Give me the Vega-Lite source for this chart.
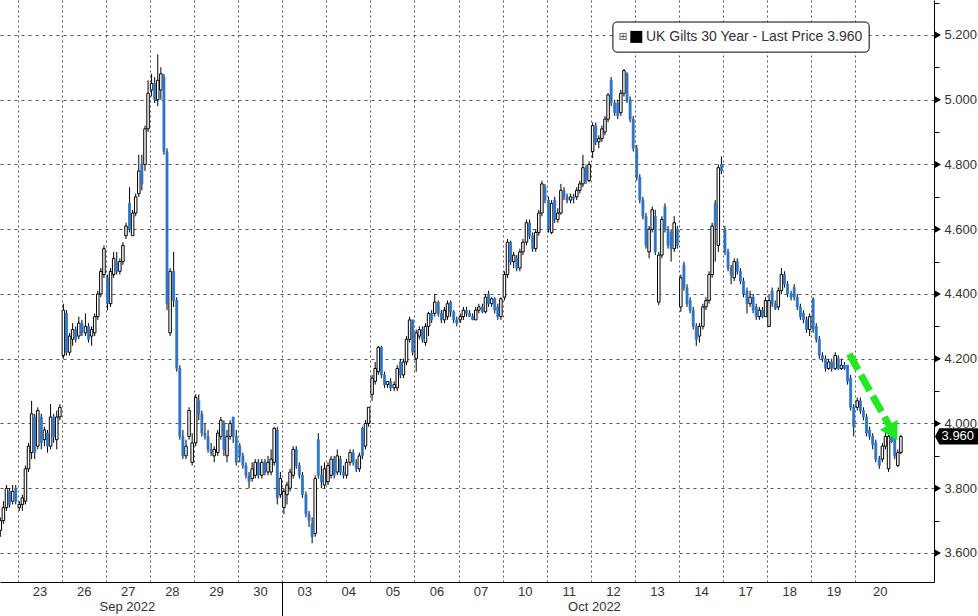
{
  "$schema": "https://vega.github.io/schema/vega-lite/v6.json",
  "description": "UK Gilts 30 Year intraday candles, Sep-Oct 2022",
  "width": 934,
  "height": 582,
  "autosize": {"type": "none"},
  "padding": {"left": 0, "top": 0, "right": 44, "bottom": 34},
  "background": "white",
  "view": {"stroke": null},
  "config": {"font": "Liberation Sans", "scale": {"continuousPadding": 0}},
  "resolve": {"axis": {"x": "independent", "y": "independent"}},
  "datasets": {
    "bars": [
      {"t":-0.39,"open":3.67,"high":3.71,"low":3.65,"close":3.70},
      {"t":-0.32,"open":3.70,"high":3.76,"low":3.69,"close":3.74},
      {"t":-0.25,"open":3.74,"high":3.81,"low":3.73,"close":3.80},
      {"t":-0.18,"open":3.79,"high":3.80,"low":3.74,"close":3.75},
      {"t":-0.11,"open":3.76,"high":3.81,"low":3.75,"close":3.79},
      {"t":-0.04,"open":3.80,"high":3.81,"low":3.75,"close":3.76},
      {"t":0.04,"open":3.74,"high":3.76,"low":3.73,"close":3.75},
      {"t":0.11,"open":3.75,"high":3.78,"low":3.73,"close":3.77},
      {"t":0.18,"open":3.76,"high":3.87,"low":3.75,"close":3.86},
      {"t":0.25,"open":3.86,"high":3.94,"low":3.85,"close":3.93},
      {"t":0.32,"open":3.91,"high":4.07,"low":3.89,"close":4.03},
      {"t":0.39,"open":4.02,"high":4.03,"low":3.89,"close":3.91},
      {"t":0.46,"open":3.93,"high":4.05,"low":3.92,"close":4.04},
      {"t":0.54,"open":4.02,"high":4.03,"low":3.92,"close":3.94},
      {"t":0.61,"open":3.95,"high":3.99,"low":3.93,"close":3.98},
      {"t":0.68,"open":3.97,"high":3.98,"low":3.91,"close":3.93},
      {"t":0.75,"open":3.93,"high":4.06,"low":3.92,"close":4.02},
      {"t":0.82,"open":4.02,"high":4.03,"low":3.94,"close":3.96},
      {"t":0.89,"open":3.95,"high":4.04,"low":3.92,"close":4.02},
      {"t":0.96,"open":4.02,"high":4.06,"low":4.01,"close":4.05},
      {"t":1.04,"open":4.21,"high":4.37,"low":4.20,"close":4.35},
      {"t":1.11,"open":4.34,"high":4.35,"low":4.21,"close":4.22},
      {"t":1.18,"open":4.22,"high":4.28,"low":4.21,"close":4.27},
      {"t":1.25,"open":4.26,"high":4.31,"low":4.24,"close":4.29},
      {"t":1.32,"open":4.29,"high":4.30,"low":4.25,"close":4.26},
      {"t":1.39,"open":4.27,"high":4.33,"low":4.26,"close":4.31},
      {"t":1.46,"open":4.31,"high":4.32,"low":4.27,"close":4.28},
      {"t":1.54,"open":4.28,"high":4.34,"low":4.27,"close":4.30},
      {"t":1.61,"open":4.30,"high":4.31,"low":4.25,"close":4.26},
      {"t":1.68,"open":4.27,"high":4.30,"low":4.24,"close":4.29},
      {"t":1.75,"open":4.28,"high":4.34,"low":4.27,"close":4.33},
      {"t":1.82,"open":4.33,"high":4.41,"low":4.32,"close":4.40},
      {"t":1.89,"open":4.40,"high":4.48,"low":4.39,"close":4.47},
      {"t":1.96,"open":4.46,"high":4.55,"low":4.45,"close":4.54},
      {"t":2.04,"open":4.45,"high":4.46,"low":4.35,"close":4.37},
      {"t":2.11,"open":4.37,"high":4.48,"low":4.36,"close":4.47},
      {"t":2.18,"open":4.46,"high":4.53,"low":4.45,"close":4.51},
      {"t":2.25,"open":4.50,"high":4.53,"low":4.46,"close":4.47},
      {"t":2.32,"open":4.47,"high":4.51,"low":4.46,"close":4.50},
      {"t":2.39,"open":4.50,"high":4.56,"low":4.49,"close":4.55},
      {"t":2.46,"open":4.58,"high":4.62,"low":4.57,"close":4.61},
      {"t":2.54,"open":4.68,"high":4.73,"low":4.59,"close":4.60},
      {"t":2.61,"open":4.58,"high":4.66,"low":4.58,"close":4.65},
      {"t":2.68,"open":4.65,"high":4.71,"low":4.64,"close":4.70},
      {"t":2.75,"open":4.71,"high":4.83,"low":4.70,"close":4.78},
      {"t":2.82,"open":4.80,"high":4.83,"low":4.72,"close":4.74},
      {"t":2.89,"open":4.80,"high":4.92,"low":4.78,"close":4.91},
      {"t":2.96,"open":4.91,"high":5.06,"low":4.90,"close":5.02},
      {"t":3.04,"open":5.03,"high":5.08,"low":5.01,"close":5.05},
      {"t":3.11,"open":5.05,"high":5.07,"low":4.99,"close":5.00},
      {"t":3.18,"open":5.00,"high":5.14,"low":4.98,"close":5.06},
      {"t":3.25,"open":5.03,"high":5.10,"low":5.00,"close":5.08},
      {"t":3.32,"open":5.07,"high":5.08,"low":4.83,"close":4.84},
      {"t":3.39,"open":4.84,"high":4.85,"low":4.35,"close":4.37},
      {"t":3.46,"open":4.28,"high":4.48,"low":4.27,"close":4.47},
      {"t":3.54,"open":4.47,"high":4.53,"low":4.36,"close":4.38},
      {"t":3.61,"open":4.38,"high":4.39,"low":4.16,"close":4.17},
      {"t":3.68,"open":4.17,"high":4.18,"low":3.95,"close":3.96},
      {"t":3.75,"open":3.96,"high":3.98,"low":3.89,"close":3.90},
      {"t":3.82,"open":3.90,"high":3.95,"low":3.89,"close":3.93},
      {"t":3.89,"open":3.96,"high":4.05,"low":3.95,"close":4.04},
      {"t":3.96,"open":3.88,"high":3.97,"low":3.87,"close":3.94},
      {"t":4.04,"open":3.94,"high":4.09,"low":3.93,"close":4.08},
      {"t":4.11,"open":4.07,"high":4.09,"low":4.01,"close":4.03},
      {"t":4.18,"open":4.03,"high":4.04,"low":3.96,"close":3.97},
      {"t":4.25,"open":3.97,"high":4.00,"low":3.95,"close":3.96},
      {"t":4.32,"open":3.96,"high":3.98,"low":3.91,"close":3.92},
      {"t":4.39,"open":3.92,"high":3.94,"low":3.90,"close":3.91},
      {"t":4.46,"open":3.90,"high":3.93,"low":3.88,"close":3.92},
      {"t":4.54,"open":3.91,"high":3.98,"low":3.90,"close":3.97},
      {"t":4.61,"open":3.96,"high":4.02,"low":3.95,"close":4.01},
      {"t":4.68,"open":4.00,"high":4.01,"low":3.90,"close":3.92},
      {"t":4.75,"open":3.90,"high":3.98,"low":3.88,"close":3.96},
      {"t":4.82,"open":3.96,"high":4.01,"low":3.95,"close":4.00},
      {"t":4.89,"open":4.02,"high":4.02,"low":3.94,"close":3.96},
      {"t":4.96,"open":3.96,"high":3.98,"low":3.87,"close":3.88},
      {"t":5.04,"open":3.93,"high":3.94,"low":3.88,"close":3.90},
      {"t":5.11,"open":3.90,"high":3.91,"low":3.86,"close":3.87},
      {"t":5.18,"open":3.87,"high":3.88,"low":3.83,"close":3.84},
      {"t":5.25,"open":3.84,"high":3.85,"low":3.80,"close":3.82},
      {"t":5.32,"open":3.83,"high":3.88,"low":3.82,"close":3.86},
      {"t":5.39,"open":3.84,"high":3.89,"low":3.83,"close":3.88},
      {"t":5.46,"open":3.88,"high":3.89,"low":3.83,"close":3.84},
      {"t":5.54,"open":3.84,"high":3.89,"low":3.83,"close":3.88},
      {"t":5.61,"open":3.88,"high":3.89,"low":3.84,"close":3.85},
      {"t":5.68,"open":3.85,"high":3.90,"low":3.84,"close":3.88},
      {"t":5.75,"open":3.85,"high":3.92,"low":3.84,"close":3.89},
      {"t":5.82,"open":3.88,"high":3.99,"low":3.87,"close":3.985},
      {"t":5.89,"open":3.98,"high":3.99,"low":3.75,"close":3.77},
      {"t":5.96,"open":3.78,"high":3.85,"low":3.77,"close":3.83},
      {"t":6.04,"open":3.74,"high":3.80,"low":3.72,"close":3.79},
      {"t":6.11,"open":3.78,"high":3.82,"low":3.75,"close":3.81},
      {"t":6.18,"open":3.80,"high":3.86,"low":3.79,"close":3.85},
      {"t":6.25,"open":3.84,"high":3.93,"low":3.83,"close":3.92},
      {"t":6.32,"open":3.92,"high":3.93,"low":3.86,"close":3.87},
      {"t":6.39,"open":3.87,"high":3.88,"low":3.83,"close":3.84},
      {"t":6.46,"open":3.84,"high":3.85,"low":3.77,"close":3.78},
      {"t":6.54,"open":3.78,"high":3.79,"low":3.71,"close":3.72},
      {"t":6.61,"open":3.72,"high":3.73,"low":3.68,"close":3.70},
      {"t":6.68,"open":3.69,"high":3.71,"low":3.63,"close":3.65},
      {"t":6.75,"open":3.66,"high":3.84,"low":3.65,"close":3.83},
      {"t":6.82,"open":3.95,"high":3.97,"low":3.83,"close":3.84},
      {"t":6.89,"open":3.84,"high":3.87,"low":3.80,"close":3.82},
      {"t":6.96,"open":3.81,"high":3.88,"low":3.80,"close":3.86},
      {"t":7.04,"open":3.82,"high":3.88,"low":3.81,"close":3.87},
      {"t":7.11,"open":3.84,"high":3.90,"low":3.83,"close":3.89},
      {"t":7.18,"open":3.89,"high":3.90,"low":3.83,"close":3.84},
      {"t":7.25,"open":3.85,"high":3.92,"low":3.84,"close":3.90},
      {"t":7.32,"open":3.89,"high":3.90,"low":3.84,"close":3.85},
      {"t":7.39,"open":3.85,"high":3.87,"low":3.83,"close":3.84},
      {"t":7.46,"open":3.84,"high":3.89,"low":3.83,"close":3.88},
      {"t":7.54,"open":3.88,"high":3.92,"low":3.87,"close":3.91},
      {"t":7.61,"open":3.91,"high":3.92,"low":3.87,"close":3.88},
      {"t":7.68,"open":3.88,"high":3.89,"low":3.85,"close":3.86},
      {"t":7.75,"open":3.86,"high":3.91,"low":3.85,"close":3.90},
      {"t":7.82,"open":3.985,"high":3.99,"low":3.89,"close":3.90},
      {"t":7.89,"open":3.93,"high":4.01,"low":3.92,"close":4.00},
      {"t":7.96,"open":4.00,"high":4.05,"low":3.99,"close":4.05},
      {"t":8.04,"open":4.09,"high":4.15,"low":4.07,"close":4.14},
      {"t":8.11,"open":4.13,"high":4.19,"low":4.12,"close":4.17},
      {"t":8.18,"open":4.16,"high":4.24,"low":4.15,"close":4.235},
      {"t":8.25,"open":4.235,"high":4.24,"low":4.14,"close":4.15},
      {"t":8.32,"open":4.15,"high":4.16,"low":4.11,"close":4.12},
      {"t":8.39,"open":4.12,"high":4.13,"low":4.11,"close":4.13},
      {"t":8.46,"open":4.13,"high":4.14,"low":4.10,"close":4.11},
      {"t":8.54,"open":4.11,"high":4.13,"low":4.10,"close":4.12},
      {"t":8.61,"open":4.11,"high":4.18,"low":4.10,"close":4.17},
      {"t":8.68,"open":4.19,"high":4.20,"low":4.14,"close":4.15},
      {"t":8.75,"open":4.15,"high":4.20,"low":4.14,"close":4.19},
      {"t":8.82,"open":4.19,"high":4.27,"low":4.18,"close":4.26},
      {"t":8.89,"open":4.26,"high":4.33,"low":4.25,"close":4.32},
      {"t":8.96,"open":4.32,"high":4.32,"low":4.21,"close":4.22},
      {"t":9.04,"open":4.20,"high":4.29,"low":4.16,"close":4.28},
      {"t":9.11,"open":4.27,"high":4.30,"low":4.26,"close":4.29},
      {"t":9.18,"open":4.29,"high":4.30,"low":4.25,"close":4.26},
      {"t":9.25,"open":4.25,"high":4.31,"low":4.24,"close":4.30},
      {"t":9.32,"open":4.30,"high":4.345,"low":4.27,"close":4.34},
      {"t":9.39,"open":4.34,"high":4.35,"low":4.31,"close":4.32},
      {"t":9.46,"open":4.34,"high":4.40,"low":4.33,"close":4.375},
      {"t":9.54,"open":4.375,"high":4.38,"low":4.33,"close":4.34},
      {"t":9.61,"open":4.34,"high":4.35,"low":4.31,"close":4.32},
      {"t":9.68,"open":4.32,"high":4.36,"low":4.31,"close":4.35},
      {"t":9.75,"open":4.33,"high":4.38,"low":4.32,"close":4.37},
      {"t":9.82,"open":4.375,"high":4.38,"low":4.33,"close":4.345},
      {"t":9.89,"open":4.345,"high":4.35,"low":4.31,"close":4.32},
      {"t":9.96,"open":4.32,"high":4.33,"low":4.30,"close":4.31},
      {"t":10.04,"open":4.32,"high":4.34,"low":4.31,"close":4.33},
      {"t":10.11,"open":4.33,"high":4.36,"low":4.32,"close":4.35},
      {"t":10.18,"open":4.35,"high":4.36,"low":4.33,"close":4.34},
      {"t":10.25,"open":4.34,"high":4.35,"low":4.33,"close":4.33},
      {"t":10.32,"open":4.33,"high":4.34,"low":4.32,"close":4.32},
      {"t":10.39,"open":4.32,"high":4.36,"low":4.32,"close":4.35},
      {"t":10.46,"open":4.35,"high":4.37,"low":4.34,"close":4.36},
      {"t":10.54,"open":4.36,"high":4.37,"low":4.34,"close":4.345},
      {"t":10.61,"open":4.345,"high":4.40,"low":4.34,"close":4.39},
      {"t":10.68,"open":4.40,"high":4.41,"low":4.36,"close":4.37},
      {"t":10.75,"open":4.37,"high":4.39,"low":4.36,"close":4.385},
      {"t":10.82,"open":4.385,"high":4.39,"low":4.34,"close":4.35},
      {"t":10.89,"open":4.36,"high":4.37,"low":4.32,"close":4.33},
      {"t":10.96,"open":4.33,"high":4.39,"low":4.32,"close":4.385},
      {"t":11.04,"open":4.39,"high":4.47,"low":4.38,"close":4.46},
      {"t":11.11,"open":4.46,"high":4.57,"low":4.45,"close":4.56},
      {"t":11.18,"open":4.56,"high":4.565,"low":4.49,"close":4.50},
      {"t":11.25,"open":4.50,"high":4.53,"low":4.48,"close":4.52},
      {"t":11.32,"open":4.51,"high":4.52,"low":4.47,"close":4.48},
      {"t":11.39,"open":4.48,"high":4.54,"low":4.47,"close":4.53},
      {"t":11.46,"open":4.53,"high":4.57,"low":4.52,"close":4.56},
      {"t":11.54,"open":4.56,"high":4.63,"low":4.55,"close":4.62},
      {"t":11.61,"open":4.62,"high":4.63,"low":4.57,"close":4.58},
      {"t":11.68,"open":4.58,"high":4.59,"low":4.53,"close":4.54},
      {"t":11.75,"open":4.54,"high":4.60,"low":4.53,"close":4.59},
      {"t":11.82,"open":4.59,"high":4.66,"low":4.58,"close":4.65},
      {"t":11.89,"open":4.65,"high":4.75,"low":4.64,"close":4.74},
      {"t":11.96,"open":4.73,"high":4.74,"low":4.68,"close":4.69},
      {"t":12.04,"open":4.69,"high":4.70,"low":4.59,"close":4.60},
      {"t":12.11,"open":4.59,"high":4.69,"low":4.585,"close":4.68},
      {"t":12.18,"open":4.69,"high":4.70,"low":4.62,"close":4.63},
      {"t":12.25,"open":4.63,"high":4.665,"low":4.62,"close":4.65},
      {"t":12.32,"open":4.65,"high":4.74,"low":4.645,"close":4.72},
      {"t":12.39,"open":4.72,"high":4.73,"low":4.69,"close":4.70},
      {"t":12.46,"open":4.70,"high":4.71,"low":4.68,"close":4.69},
      {"t":12.54,"open":4.69,"high":4.71,"low":4.68,"close":4.70},
      {"t":12.61,"open":4.70,"high":4.71,"low":4.68,"close":4.695},
      {"t":12.68,"open":4.70,"high":4.73,"low":4.69,"close":4.72},
      {"t":12.75,"open":4.72,"high":4.75,"low":4.71,"close":4.74},
      {"t":12.82,"open":4.74,"high":4.83,"low":4.73,"close":4.79},
      {"t":12.89,"open":4.79,"high":4.80,"low":4.74,"close":4.75},
      {"t":12.96,"open":4.75,"high":4.81,"low":4.745,"close":4.80},
      {"t":13.04,"open":4.84,"high":4.93,"low":4.82,"close":4.92},
      {"t":13.11,"open":4.92,"high":4.93,"low":4.86,"close":4.87},
      {"t":13.18,"open":4.87,"high":4.89,"low":4.85,"close":4.88},
      {"t":13.25,"open":4.88,"high":4.92,"low":4.87,"close":4.91},
      {"t":13.32,"open":4.90,"high":4.95,"low":4.89,"close":4.94},
      {"t":13.39,"open":4.94,"high":5.02,"low":4.93,"close":5.015},
      {"t":13.46,"open":5.06,"high":5.07,"low":4.98,"close":4.99},
      {"t":13.54,"open":4.99,"high":5.00,"low":4.95,"close":4.96},
      {"t":13.61,"open":4.99,"high":5.00,"low":4.94,"close":4.95},
      {"t":13.68,"open":4.96,"high":5.03,"low":4.95,"close":5.02},
      {"t":13.75,"open":5.02,"high":5.095,"low":5.01,"close":5.09},
      {"t":13.82,"open":5.08,"high":5.085,"low":4.99,"close":5.00},
      {"t":13.89,"open":5.00,"high":5.01,"low":4.93,"close":4.94},
      {"t":13.96,"open":4.94,"high":4.95,"low":4.84,"close":4.85},
      {"t":14.04,"open":4.85,"high":4.86,"low":4.75,"close":4.76},
      {"t":14.11,"open":4.76,"high":4.77,"low":4.68,"close":4.69},
      {"t":14.18,"open":4.69,"high":4.70,"low":4.63,"close":4.64},
      {"t":14.25,"open":4.64,"high":4.65,"low":4.54,"close":4.55},
      {"t":14.32,"open":4.53,"high":4.61,"low":4.51,"close":4.60},
      {"t":14.39,"open":4.60,"high":4.67,"low":4.59,"close":4.66},
      {"t":14.46,"open":4.64,"high":4.66,"low":4.52,"close":4.53},
      {"t":14.54,"open":4.375,"high":4.53,"low":4.365,"close":4.52},
      {"t":14.61,"open":4.52,"high":4.64,"low":4.51,"close":4.63},
      {"t":14.68,"open":4.67,"high":4.68,"low":4.59,"close":4.60},
      {"t":14.75,"open":4.60,"high":4.61,"low":4.54,"close":4.55},
      {"t":14.82,"open":4.59,"high":4.60,"low":4.50,"close":4.54},
      {"t":14.89,"open":4.54,"high":4.64,"low":4.53,"close":4.62},
      {"t":14.96,"open":4.60,"high":4.61,"low":4.54,"close":4.55},
      {"t":15.04,"open":4.36,"high":4.46,"low":4.345,"close":4.45},
      {"t":15.11,"open":4.49,"high":4.50,"low":4.41,"close":4.42},
      {"t":15.18,"open":4.42,"high":4.43,"low":4.36,"close":4.37},
      {"t":15.25,"open":4.38,"high":4.39,"low":4.34,"close":4.35},
      {"t":15.32,"open":4.35,"high":4.36,"low":4.29,"close":4.30},
      {"t":15.39,"open":4.30,"high":4.31,"low":4.24,"close":4.26},
      {"t":15.46,"open":4.27,"high":4.31,"low":4.25,"close":4.30},
      {"t":15.54,"open":4.30,"high":4.37,"low":4.29,"close":4.36},
      {"t":15.61,"open":4.36,"high":4.39,"low":4.35,"close":4.38},
      {"t":15.68,"open":4.38,"high":4.47,"low":4.37,"close":4.46},
      {"t":15.75,"open":4.46,"high":4.62,"low":4.45,"close":4.61},
      {"t":15.82,"open":4.68,"high":4.69,"low":4.50,"close":4.61},
      {"t":15.89,"open":4.55,"high":4.80,"low":4.53,"close":4.79},
      {"t":15.96,"open":4.80,"high":4.825,"low":4.77,"close":4.78},
      {"t":16.04,"open":4.60,"high":4.61,"low":4.52,"close":4.53},
      {"t":16.11,"open":4.53,"high":4.54,"low":4.47,"close":4.48},
      {"t":16.18,"open":4.48,"high":4.49,"low":4.43,"close":4.46},
      {"t":16.25,"open":4.45,"high":4.51,"low":4.44,"close":4.50},
      {"t":16.32,"open":4.50,"high":4.51,"low":4.46,"close":4.47},
      {"t":16.39,"open":4.47,"high":4.48,"low":4.43,"close":4.44},
      {"t":16.46,"open":4.44,"high":4.45,"low":4.39,"close":4.40},
      {"t":16.54,"open":4.41,"high":4.42,"low":4.34,"close":4.37},
      {"t":16.61,"open":4.37,"high":4.41,"low":4.36,"close":4.39},
      {"t":16.68,"open":4.39,"high":4.40,"low":4.34,"close":4.35},
      {"t":16.75,"open":4.36,"high":4.37,"low":4.32,"close":4.33},
      {"t":16.82,"open":4.33,"high":4.36,"low":4.32,"close":4.35},
      {"t":16.89,"open":4.35,"high":4.36,"low":4.325,"close":4.33},
      {"t":16.96,"open":4.33,"high":4.39,"low":4.33,"close":4.38},
      {"t":17.04,"open":4.30,"high":4.40,"low":4.30,"close":4.38},
      {"t":17.11,"open":4.41,"high":4.42,"low":4.36,"close":4.37},
      {"t":17.18,"open":4.37,"high":4.38,"low":4.35,"close":4.355},
      {"t":17.25,"open":4.36,"high":4.42,"low":4.35,"close":4.41},
      {"t":17.32,"open":4.41,"high":4.48,"low":4.40,"close":4.46},
      {"t":17.39,"open":4.46,"high":4.47,"low":4.42,"close":4.43},
      {"t":17.46,"open":4.43,"high":4.44,"low":4.39,"close":4.40},
      {"t":17.54,"open":4.40,"high":4.41,"low":4.38,"close":4.39},
      {"t":17.61,"open":4.42,"high":4.43,"low":4.38,"close":4.39},
      {"t":17.68,"open":4.39,"high":4.40,"low":4.35,"close":4.36},
      {"t":17.75,"open":4.36,"high":4.37,"low":4.32,"close":4.33},
      {"t":17.82,"open":4.34,"high":4.35,"low":4.31,"close":4.32},
      {"t":17.89,"open":4.32,"high":4.33,"low":4.28,"close":4.29},
      {"t":17.96,"open":4.29,"high":4.34,"low":4.27,"close":4.33},
      {"t":18.04,"open":4.385,"high":4.39,"low":4.28,"close":4.29},
      {"t":18.11,"open":4.30,"high":4.31,"low":4.25,"close":4.26},
      {"t":18.18,"open":4.26,"high":4.27,"low":4.20,"close":4.21},
      {"t":18.25,"open":4.21,"high":4.22,"low":4.19,"close":4.20},
      {"t":18.32,"open":4.20,"high":4.21,"low":4.16,"close":4.17},
      {"t":18.39,"open":4.17,"high":4.20,"low":4.165,"close":4.19},
      {"t":18.46,"open":4.19,"high":4.20,"low":4.16,"close":4.17},
      {"t":18.54,"open":4.17,"high":4.22,"low":4.165,"close":4.21},
      {"t":18.61,"open":4.20,"high":4.21,"low":4.165,"close":4.17},
      {"t":18.68,"open":4.17,"high":4.20,"low":4.165,"close":4.18},
      {"t":18.75,"open":4.18,"high":4.19,"low":4.165,"close":4.17},
      {"t":18.82,"open":4.18,"high":4.18,"low":4.12,"close":4.13},
      {"t":18.89,"open":4.14,"high":4.15,"low":4.04,"close":4.05},
      {"t":18.96,"open":4.05,"high":4.06,"low":3.96,"close":3.99},
      {"t":19.04,"open":4.05,"high":4.08,"low":4.04,"close":4.07},
      {"t":19.11,"open":4.07,"high":4.08,"low":4.03,"close":4.04},
      {"t":19.18,"open":4.04,"high":4.05,"low":4.01,"close":4.02},
      {"t":19.25,"open":4.02,"high":4.03,"low":3.96,"close":3.97},
      {"t":19.32,"open":3.98,"high":3.99,"low":3.95,"close":3.96},
      {"t":19.39,"open":3.96,"high":3.97,"low":3.92,"close":3.935},
      {"t":19.46,"open":3.94,"high":3.95,"low":3.88,"close":3.89},
      {"t":19.54,"open":3.89,"high":3.90,"low":3.86,"close":3.87},
      {"t":19.61,"open":3.89,"high":3.94,"low":3.88,"close":3.93},
      {"t":19.68,"open":3.93,"high":3.97,"low":3.92,"close":3.96},
      {"t":19.75,"open":3.86,"high":3.965,"low":3.85,"close":3.96},
      {"t":19.82,"open":3.96,"high":3.97,"low":3.94,"close":3.945},
      {"t":19.89,"open":3.96,"high":3.97,"low":3.89,"close":3.90},
      {"t":19.96,"open":3.87,"high":3.92,"low":3.865,"close":3.91},
      {"t":20.03,"open":3.91,"high":3.965,"low":3.905,"close":3.96}
    ],
    "levels": [
      {"price":3.6},{"price":3.8},{"price":4.0},{"price":4.2},{"price":4.4},
      {"price":4.6},{"price":4.8},{"price":5.0},{"price":5.2}
    ],
    "arrow": [
      {"t":18.86,"price":4.2145},
      {"t":19.78,"price":3.99}
    ],
    "last": [{"price":3.96,"series":"UK Gilts 30 Year - Last Price 3.960"}]
  },
  "layer": [
    {
      "data": {"name": "bars"},
      "mark": {"type": "rule", "color": "black", "strokeWidth": 1},
      "encoding": {
        "x": {
          "field": "t", "type": "quantitative",
          "scale": {"domain": [-0.397, 20.78], "nice": false, "zero": false},
          "axis": {
            "title": null, "orient": "bottom", "values": [0,1,2,3,4,5,6,7,8,9,10,11,12,13,14,15,16,17,18,19],
            "labels": false, "ticks": false, "domainColor": "black",
            "grid": true, "gridColor": "#555555", "gridDash": [2, 3]
          }
        },
        "y": {
          "field": "low", "type": "quantitative",
          "scale": {"domain": [3.5104, 5.308], "nice": false, "zero": false},
          "axis": {
            "title": null, "orient": "right", "values": [3.6,3.8,4.0,4.2,4.4,4.6,4.8,5.0,5.2],
            "format": ".3f", "tickSize": 0, "labelPadding": 10, "labelFontSize": 13,
            "labelColor": "#333333", "labelOverlap": false, "labelBound": false, "labelFlush": false,
            "domainColor": "black",
            "grid": true, "gridColor": "#555555", "gridDash": [3, 4]
          }
        },
        "y2": {"field": "high"}
      }
    },
    {
      "data": {"name": "bars"},
      "transform": [{"filter": "datum.close >= datum.open"}],
      "mark": {"type": "bar", "width": 2.5, "color": "white", "stroke": "black", "strokeWidth": 1},
      "encoding": {
        "x": {
          "field": "t", "type": "quantitative",
          "scale": {"domain": [-0.397, 20.78], "nice": false, "zero": false},
          "axis": {
            "title": null, "orient": "bottom", "values": [0.5,1.5,2.5,3.5,4.5,5.5,6.5,7.5,8.5,9.5,10.5,11.5,12.5,13.5,14.5,15.5,16.5,17.5,18.5,19.55],
            "labelExpr": "['23','26','27','28','29','30','03','04','05','06','07','10','11','12','13','14','17','18','19','20'][floor(datum.value)]",
            "ticks": false, "domain": false, "grid": false, "labelFontSize": 13, "labelColor": "#333333",
            "labelPadding": 3, "labelOverlap": false, "labelBound": false, "labelFlush": false
          }
        },
        "y": {
          "field": "open", "type": "quantitative",
          "scale": {"domain": [3.5104, 5.308], "nice": false, "zero": false},
          "axis": {
            "title": null, "orient": "right", "values": [3.6,3.7,3.8,3.9,4.0,4.1,4.2,4.3,4.4,4.5,4.6,4.7,4.8,4.9,5.0,5.1,5.2,5.3],
            "labels": false, "tickSize": 5, "tickColor": "black", "domain": false, "grid": false
          }
        },
        "y2": {"field": "close"}
      }
    },
    {
      "data": {"name": "bars"},
      "transform": [{"filter": "datum.close < datum.open"}],
      "mark": {"type": "bar", "width": 2, "color": "#2b74c6", "stroke": "#2b74c6", "strokeWidth": 0.8},
      "encoding": {
        "x": {
          "field": "t", "type": "quantitative",
          "scale": {"domain": [-0.397, 20.78], "nice": false, "zero": false},
          "axis": {
            "title": null, "orient": "bottom", "values": [2.48, 13.07],
            "labelExpr": "datum.value < 6 ? 'Sep 2022' : 'Oct 2022'",
            "ticks": false, "domain": false, "grid": false, "labelFontSize": 13, "labelColor": "#333333",
            "labelPadding": 18, "labelOverlap": false, "labelBound": false, "labelFlush": false
          }
        },
        "y": {
          "field": "open", "type": "quantitative",
          "scale": {"domain": [3.5104, 5.308], "nice": false, "zero": false},
          "axis": null
        },
        "y2": {"field": "close"}
      }
    },
    {
      "data": {"name": "arrow"},
      "mark": {"type": "line", "color": "#22e822", "strokeWidth": 7, "strokeDash": [18, 6]},
      "encoding": {
        "x": {
          "field": "t", "type": "quantitative",
          "scale": {"domain": [-0.397, 20.78], "nice": false, "zero": false},
          "axis": {
            "title": null, "orient": "bottom", "values": [6], "labels": false, "tickSize": 34, "tickColor": "black",
            "domain": false, "grid": false
          }
        },
        "y": {
          "field": "price", "type": "quantitative",
          "scale": {"domain": [3.5104, 5.308], "nice": false, "zero": false},
          "axis": null
        }
      }
    },
    {
      "data": {"name": "arrow"},
      "transform": [{"filter": "datum.t > 19"}],
      "mark": {"type": "point", "shape": "triangle-down", "filled": true, "color": "#22e822", "opacity": 1, "size": 420, "angle": -29},
      "encoding": {
        "x": {"datum": 19.85, "type": "quantitative", "scale": {"domain": [-0.397, 20.78], "nice": false, "zero": false}, "axis": null},
        "y": {"datum": 3.972, "type": "quantitative", "scale": {"domain": [3.5104, 5.308], "nice": false, "zero": false}, "axis": null}
      }
    },
    {
      "data": {"name": "levels"},
      "mark": {"type": "point", "shape": "triangle-right", "filled": true, "color": "black", "opacity": 1, "size": 55},
      "encoding": {
        "x": {"datum": 20.865, "type": "quantitative", "scale": {"domain": [-0.397, 20.78], "nice": false, "zero": false}, "axis": null},
        "y": {"field": "price", "type": "quantitative", "scale": {"domain": [3.5104, 5.308], "nice": false, "zero": false}, "axis": null}
      }
    },
    {
      "data": {"name": "last"},
      "mark": {"type": "point", "shape": "M-1,0L-0.8,-0.38L1,-0.38L1,0.38L-0.8,0.38Z", "filled": true, "color": "black", "opacity": 1, "size": 1849},
      "encoding": {
        "x": {"datum": 21.29, "type": "quantitative", "scale": {"domain": [-0.397, 20.78], "nice": false, "zero": false}, "axis": null},
        "y": {"field": "price", "type": "quantitative", "scale": {"domain": [3.5104, 5.308], "nice": false, "zero": false}, "axis": null}
      }
    },
    {
      "data": {"name": "last"},
      "mark": {"type": "text", "color": "white", "fontSize": 13, "align": "center", "baseline": "middle"},
      "encoding": {
        "x": {"datum": 21.32, "type": "quantitative", "scale": {"domain": [-0.397, 20.78], "nice": false, "zero": false}, "axis": null},
        "y": {"field": "price", "type": "quantitative", "scale": {"domain": [3.5104, 5.308], "nice": false, "zero": false}, "axis": null},
        "text": {"field": "price", "type": "quantitative", "format": ".3f"}
      }
    },
    {
      "data": {"name": "last"},
      "mark": {"type": "rect", "fill": "white", "stroke": "black", "strokeWidth": 1, "cornerRadius": 4},
      "encoding": {
        "x": {"datum": 13.5, "type": "quantitative", "scale": {"domain": [-0.397, 20.78], "nice": false, "zero": false}, "axis": null},
        "x2": {"datum": 19.31},
        "y": {"datum": 5.24, "type": "quantitative", "scale": {"domain": [3.5104, 5.308], "nice": false, "zero": false}, "axis": null},
        "y2": {"datum": 5.147}
      }
    },
    {
      "data": {"name": "last"},
      "mark": {"type": "point", "shape": "square", "filled": true, "color": "black", "opacity": 1, "size": 144},
      "encoding": {
        "x": {"datum": 14.03, "type": "quantitative", "scale": {"domain": [-0.397, 20.78], "nice": false, "zero": false}, "axis": null},
        "y": {"datum": 5.194, "type": "quantitative", "scale": {"domain": [3.5104, 5.308], "nice": false, "zero": false}, "axis": null}
      }
    },
    {
      "data": {"name": "last"},
      "mark": {"type": "text", "text": "⊞", "font": "DejaVu Sans", "color": "#555555", "fontSize": 11, "align": "center", "baseline": "middle"},
      "encoding": {
        "x": {"datum": 13.73, "type": "quantitative", "scale": {"domain": [-0.397, 20.78], "nice": false, "zero": false}, "axis": null},
        "y": {"datum": 5.194, "type": "quantitative", "scale": {"domain": [3.5104, 5.308], "nice": false, "zero": false}, "axis": null}
      }
    },
    {
      "data": {"name": "last"},
      "mark": {"type": "text", "color": "#333333", "fontSize": 14, "align": "left", "baseline": "middle"},
      "encoding": {
        "x": {"datum": 14.25, "type": "quantitative", "scale": {"domain": [-0.397, 20.78], "nice": false, "zero": false}, "axis": null},
        "y": {"datum": 5.194, "type": "quantitative", "scale": {"domain": [3.5104, 5.308], "nice": false, "zero": false}, "axis": null},
        "text": {"field": "series", "type": "nominal"}
      }
    }
  ]
}
